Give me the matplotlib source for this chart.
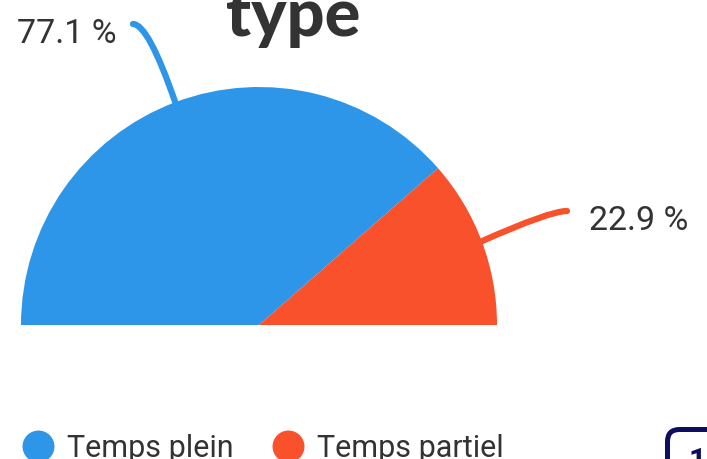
import numpy as np
import matplotlib.pyplot as plt
from matplotlib.lines import Line2D
from matplotlib.patches import FancyBboxPatch

# data
categories = ['Temps plein', 'Temps partiel']
shares = [77.1, 22.9]
colors = ['#2E96E8', '#F8512B']
title = 'type'

W, H = 707, 460
fig = plt.figure(figsize=(W / 100, H / 100), dpi=100)
ax = fig.add_axes([0, 0, 1, 1])

# half pie: add an invisible half so the shown part spans 180 degrees
cx, cy, r = 259, H - 326, 238
wedges, _ = ax.pie(shares + [sum(shares)], colors=colors + ['none'],
                   center=(cx, cy), radius=r, startangle=180, counterclock=False,
                   frame=True, wedgeprops=dict(linewidth=0))
ax.set_xlim(0, W)
ax.set_ylim(0, H)
ax.set_aspect('equal')
ax.axis('off')

txt_font = ['Roboto', 'DejaVu Sans']

# labels with curved leader lines
label_pos = [(133, H - 25, 117, 'right', 109), (567, H - 212, 589, 'left', 24)]
for w, val, col, (sx, sy, tx, ha, angB) in zip(wedges, shares, colors, label_pos):
    mid = np.deg2rad((w.theta1 + w.theta2) / 2)
    ex, ey = cx + r * np.cos(mid), cy + r * np.sin(mid)
    ax.annotate('', xy=(ex, ey), xytext=(sx, sy),
                arrowprops=dict(arrowstyle='-', color=col, lw=4.5, capstyle='round',
                                connectionstyle=f'angle3,angleA=0,angleB={angB}',
                                shrinkA=0, shrinkB=0))
    ax.text(tx, sy - 9, f'{val} %', ha=ha, va='center', fontsize=24.5,
            color='#333333', family=txt_font)

# title (only last line visible, cut at the top like the original)
ax.text(293, H - 36, title, ha='center', va='baseline', fontsize=48,
        fontweight='black', color='#333333', family=['Lato', 'DejaVu Sans'])

# legend
handles = [Line2D([], [], marker='o', linestyle='none', markersize=23,
                  markerfacecolor=c, markeredgewidth=0) for c in colors]
leg = ax.legend(handles, categories, loc='lower left', bbox_to_anchor=(-5 / W, -31 / H),
                ncol=2, frameon=False, handletextpad=0.45,
                columnspacing=1.3, handlelength=1.0,
                prop=dict(family=txt_font, size=22))
for t in leg.get_texts():
    t.set_color('#333333')

# badge in the corner
ax.add_patch(FancyBboxPatch((667.5, -40), 70, 69.5, boxstyle='round,pad=0,rounding_size=12',
                            facecolor='white', edgecolor='#0D0F5C', lw=3.6))
ax.text(697, H - 470, '1', ha='center', va='baseline', fontsize=22, fontweight='bold',
        color='#0D0F5C', family=['Roboto', 'DejaVu Sans'])

fig.savefig('out.png', dpi=100)
